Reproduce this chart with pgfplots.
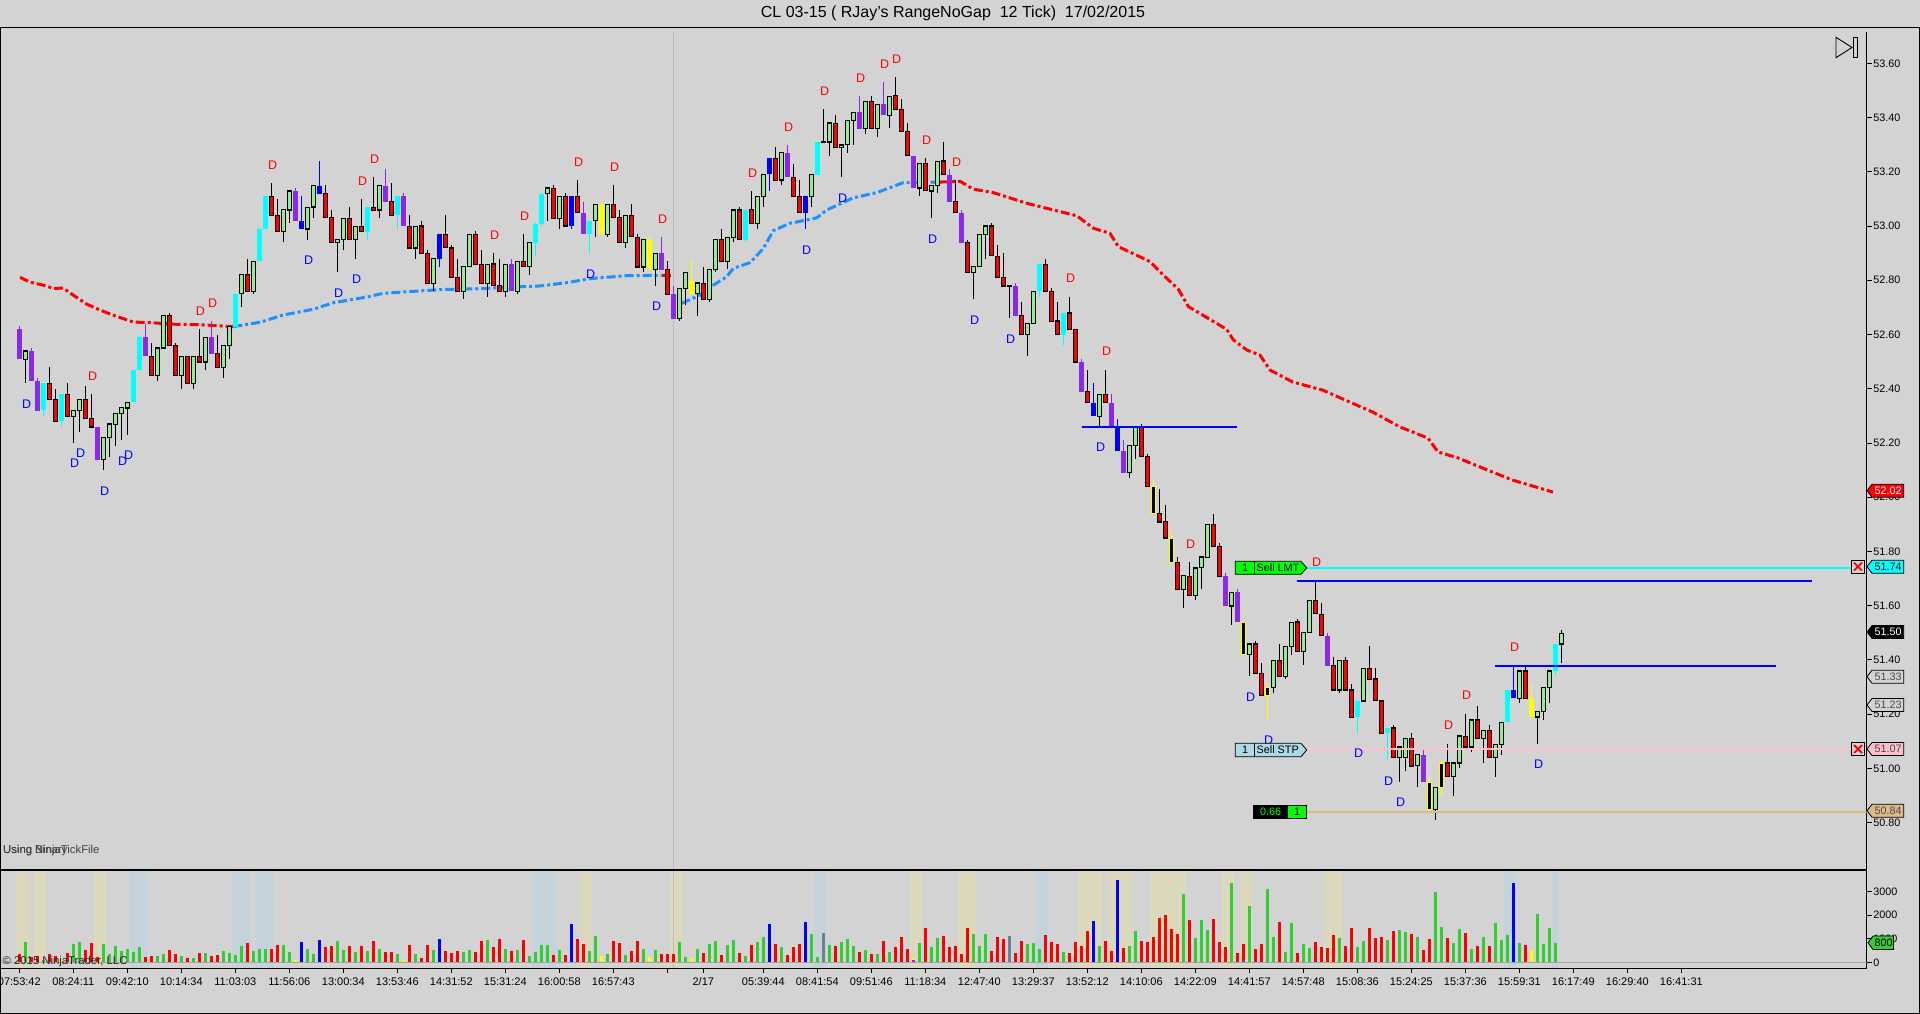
\documentclass[border=0pt]{standalone}
\usepackage{pgfplots}
\usepackage{pgfplotstable}
\usepackage{fontspec}
\setmainfont{Liberation Sans}
\pgfplotsset{compat=1.18}
\definecolor{bgc}{HTML}{D3D3D3}
\definecolor{cgreen}{HTML}{90EE90}
\definecolor{cpurple}{HTML}{8A2BE2}
\definecolor{vgreen}{HTML}{32CD32}
\definecolor{dblue}{HTML}{1E90FF}
\definecolor{byel}{HTML}{DCD8BC}
\definecolor{bblu}{HTML}{C4D3DB}
\definecolor{tan1}{HTML}{DEB887}
\definecolor{slate}{HTML}{708090}
\definecolor{lblue}{HTML}{ADD8E6}
\definecolor{ccyan}{HTML}{00FFFF}
\definecolor{cyel}{HTML}{FFFF00}
\definecolor{cpink}{HTML}{FFC0CB}
\definecolor{cred}{HTML}{FF0000}
\definecolor{cblue}{HTML}{0000FF}
\definecolor{clime}{HTML}{00FF00}
\newcommand{\fs}[1]{\fontsize{#1}{#1}\selectfont}

\pgfplotstableread{
x t b l h
1 52.54 52.51 52.42 52.54
9 52.32 52.30 52.20 52.32
10 52.36 52.32 52.24 52.36
14 52.22 52.14 52.10 52.22
15 52.27 52.22 52.15 52.27
16 52.31 52.27 52.19 52.31
17 52.33 52.31 52.21 52.33
18 52.35 52.33 52.23 52.35
23 52.55 52.45 52.43 52.55
24 52.67 52.55 52.55 52.67
27 52.52 52.45 52.40 52.52
29 52.52 52.42 52.40 52.52
31 52.59 52.50 52.47 52.59
34 52.56 52.48 52.44 52.56
35 52.63 52.56 52.51 52.63
37 52.82 52.75 52.70 52.82
39 52.87 52.76 52.75 52.87
44 53.06 52.98 52.94 53.06
45 53.13 53.06 53.01 53.13
48 53.07 52.99 52.95 53.07
49 53.15 53.07 53.03 53.15
53 52.95 52.94 52.83 52.95
54 53.03 52.95 52.91 53.03
56 53.00 52.95 52.88 53.00
60 53.15 53.06 53.03 53.15
66 53.00 52.92 52.88 53.00
69 52.88 52.79 52.76 52.88
74 52.85 52.76 52.73 52.85
75 52.97 52.85 52.85 52.97
78 52.86 52.79 52.74 52.86
81 52.86 52.76 52.74 52.86
83 52.87 52.76 52.75 52.87
85 52.94 52.85 52.82 52.94
88 53.14 53.12 53.02 53.14
90 53.11 53.03 52.99 53.11
96 53.08 53.02 52.96 53.08
98 53.08 52.97 52.96 53.08
101 53.04 52.94 52.92 53.04
104 52.95 52.85 52.83 52.95
106 52.90 52.84 52.78 52.90
110 52.77 52.66 52.65 52.77
111 52.83 52.77 52.71 52.83
113 52.79 52.75 52.67 52.79
115 52.84 52.73 52.72 52.84
116 52.95 52.84 52.83 52.95
118 52.96 52.87 52.84 52.96
119 53.06 52.96 52.94 53.06
123 53.11 53.01 52.99 53.11
124 53.19 53.11 53.07 53.19
127 53.27 53.17 53.15 53.27
132 53.19 53.11 53.07 53.19
134 53.31 53.31 53.31 53.43
135 53.38 53.31 53.26 53.38
137 53.30 53.29 53.18 53.30
138 53.39 53.30 53.27 53.39
139 53.42 53.39 53.30 53.42
141 53.46 53.36 53.34 53.46
143 53.45 53.36 53.33 53.45
145 53.48 53.41 53.36 53.48
150 53.23 53.14 53.11 53.23
152 53.15 53.13 53.03 53.15
153 53.24 53.15 53.12 53.24
159 52.85 52.83 52.73 52.85
160 52.97 52.85 52.85 52.97
161 53.00 52.97 52.88 53.00
165 52.78 52.78 52.66 52.78
168 52.64 52.60 52.52 52.64
169 52.76 52.64 52.64 52.76
180 52.38 52.30 52.26 52.38
185 52.19 52.09 52.07 52.19
186 52.26 52.19 52.14 52.26
194 51.71 51.66 51.59 51.71
196 51.74 51.64 51.62 51.74
197 51.78 51.74 51.66 51.78
198 51.90 51.78 51.78 51.90
202 51.65 51.60 51.53 51.65
205 51.46 51.42 51.34 51.46
209 51.40 51.30 51.28 51.40
211 51.45 51.34 51.33 51.45
212 51.54 51.45 51.42 51.54
214 51.50 51.43 51.38 51.50
215 51.62 51.50 51.50 51.62
220 51.40 51.29 51.28 51.40
224 51.37 51.25 51.25 51.37
230 51.08 51.04 50.95 51.08
231 51.11 51.04 50.99 51.11
233 51.05 51.01 50.93 51.05
236 50.93 50.85 50.81 50.93
239 51.02 50.97 50.90 51.02
240 51.12 51.02 51.00 51.12
242 51.18 51.08 51.06 51.18
244 51.14 51.11 51.02 51.14
246 51.09 51.04 50.97 51.09
247 51.17 51.09 51.05 51.17
250 51.36 51.26 51.24 51.36
253 51.21 51.19 51.09 51.21
254 51.30 51.21 51.18 51.30
255 51.36 51.30 51.24 51.36
257 51.50 51.46 51.39 51.51
}\tgreen

\pgfplotstableread{
x t b l h
5 52.42 52.36 52.36 52.48
6 52.36 52.28 52.28 52.40
8 52.38 52.30 52.30 52.42
11 52.36 52.29 52.29 52.41
12 52.29 52.26 52.26 52.38
22 52.52 52.45 52.45 52.57
25 52.67 52.56 52.56 52.68
26 52.56 52.45 52.45 52.57
28 52.52 52.42 52.42 52.52
30 52.52 52.50 52.50 52.62
33 52.53 52.48 52.48 52.60
38 52.82 52.76 52.76 52.88
42 53.11 53.04 53.04 53.16
43 53.04 52.98 52.98 53.10
51 53.12 53.03 53.03 53.15
52 53.03 52.94 52.94 53.06
55 53.03 52.95 52.95 53.07
57 53.00 52.98 52.98 53.10
59 53.07 53.06 53.06 53.18
62 53.09 53.04 53.04 53.16
65 53.00 52.92 52.92 53.04
67 53.00 52.90 52.90 53.02
68 52.90 52.79 52.79 52.91
71 52.97 52.92 52.92 53.04
72 52.92 52.81 52.81 52.93
73 52.81 52.76 52.76 52.88
76 52.97 52.86 52.86 52.98
77 52.86 52.79 52.79 52.91
79 52.86 52.78 52.78 52.90
80 52.78 52.76 52.76 52.88
84 52.87 52.85 52.85 52.97
89 53.14 53.03 53.03 53.15
91 53.11 53.00 53.00 53.12
93 53.11 53.05 53.05 53.17
99 53.08 53.03 53.03 53.15
100 53.03 52.94 52.94 53.06
102 53.04 52.96 52.96 53.08
103 52.96 52.85 52.85 52.97
108 52.84 52.75 52.75 52.87
114 52.79 52.73 52.73 52.85
117 52.95 52.87 52.87 52.99
120 53.06 52.95 52.95 53.07
122 53.06 53.01 53.01 53.13
126 53.25 53.17 53.17 53.29
129 53.18 53.11 53.11 53.23
130 53.11 53.05 53.05 53.17
136 53.38 53.29 53.29 53.41
142 53.46 53.36 53.36 53.48
146 53.48 53.43 53.43 53.55
147 53.43 53.35 53.35 53.47
148 53.35 53.26 53.26 53.38
151 53.23 53.13 53.13 53.25
154 53.24 53.19 53.19 53.31
156 53.09 53.05 53.05 53.17
158 52.94 52.83 52.83 52.95
162 53.00 52.89 52.89 53.01
163 52.89 52.81 52.81 52.93
164 52.81 52.78 52.78 52.90
167 52.67 52.60 52.60 52.72
171 52.86 52.76 52.76 52.88
172 52.76 52.65 52.65 52.77
173 52.65 52.60 52.60 52.72
175 52.68 52.62 52.62 52.74
176 52.62 52.50 52.50 52.62
178 52.39 52.35 52.35 52.47
181 52.38 52.35 52.35 52.47
187 52.26 52.15 52.15 52.27
188 52.15 52.04 52.04 52.16
190 51.94 51.91 51.91 52.03
191 51.91 51.85 51.85 51.97
193 51.76 51.66 51.66 51.78
195 51.71 51.64 51.64 51.76
199 51.90 51.82 51.82 51.94
200 51.82 51.71 51.71 51.83
206 51.46 51.35 51.35 51.47
207 51.35 51.27 51.27 51.39
210 51.40 51.34 51.34 51.46
213 51.54 51.43 51.43 51.55
216 51.62 51.57 51.57 51.69
217 51.57 51.49 51.49 51.61
219 51.38 51.29 51.29 51.41
221 51.40 51.29 51.29 51.41
222 51.29 51.19 51.19 51.31
225 51.37 51.33 51.33 51.45
226 51.33 51.25 51.25 51.37
227 51.25 51.13 51.13 51.25
229 51.15 51.04 51.04 51.16
232 51.11 51.01 51.01 51.13
238 51.02 50.97 50.97 51.09
241 51.12 51.08 51.08 51.20
243 51.18 51.11 51.11 51.23
245 51.14 51.04 51.04 51.16
251 51.36 51.26 51.26 51.38
}\tred

\pgfplotstableread{
x t b l h
0 52.62 52.51 52.51 52.63
2 52.54 52.43 52.43 52.55
3 52.43 52.32 52.32 52.44
13 52.26 52.14 52.14 52.26
21 52.59 52.52 52.52 52.64
32 52.59 52.53 52.53 52.65
46 53.13 53.02 53.02 53.14
61 53.15 53.09 53.09 53.21
64 53.11 53.00 53.00 53.12
82 52.86 52.76 52.76 52.88
94 53.05 52.97 52.97 53.09
107 52.90 52.84 52.84 52.96
109 52.75 52.66 52.66 52.78
128 53.27 53.18 53.18 53.30
140 53.42 53.36 53.36 53.48
144 53.45 53.41 53.41 53.53
149 53.26 53.14 53.14 53.26
155 53.19 53.09 53.09 53.21
157 53.05 52.94 52.94 53.06
166 52.78 52.67 52.67 52.79
177 52.50 52.39 52.39 52.51
182 52.35 52.26 52.26 52.38
184 52.17 52.09 52.09 52.21
201 51.71 51.60 51.60 51.72
203 51.65 51.54 51.54 51.66
218 51.49 51.38 51.38 51.50
234 51.05 50.95 50.95 51.07
}\tpurple

\pgfplotstableread{
x t b l h
4 52.42 52.32 52.30 52.42
7 52.38 52.28 52.26 52.38
19 52.47 52.35 52.35 52.47
20 52.59 52.47 52.47 52.59
36 52.75 52.63 52.63 52.75
40 52.99 52.87 52.87 52.99
41 53.11 52.99 52.99 53.11
58 53.07 52.98 52.95 53.07
63 53.11 53.04 52.99 53.11
86 53.01 52.94 52.89 53.01
87 53.12 53.01 53.00 53.12
95 53.02 52.97 52.90 53.02
121 53.06 52.95 52.94 53.06
133 53.31 53.19 53.19 53.31
170 52.86 52.76 52.74 52.86
174 52.68 52.60 52.56 52.68
223 51.25 51.19 51.13 51.25
228 51.15 51.13 51.03 51.15
248 51.29 51.17 51.17 51.29
256 51.46 51.36 51.34 51.46
}\tcyan

\pgfplotstableread{
x t b l h
47 53.02 52.99 52.99 53.11
50 53.15 53.12 53.12 53.24
70 52.97 52.88 52.85 52.97
92 53.11 53.00 52.99 53.11
125 53.25 53.19 53.13 53.25
131 53.11 53.05 52.99 53.11
179 52.35 52.30 52.30 52.42
183 52.26 52.17 52.17 52.29
249 51.29 51.26 51.26 51.38
}\tblue

\pgfplotstableread{
x t b l h
97 53.08 52.97 52.97 53.09
105 52.95 52.84 52.84 52.96
112 52.80 52.75 52.75 52.87
252 51.26 51.19 51.19 51.31
}\tyellow

\pgfplotstableread{
x t b l h
189 52.04 51.94 51.94 52.06
192 51.85 51.76 51.76 51.88
204 51.54 51.42 51.42 51.54
208 51.30 51.27 51.18 51.30
235 50.95 50.85 50.85 50.97
237 51.02 50.93 50.90 51.02
}\tblack

\pgfplotstableread{
x v
0 352
2 225
3 268
5 352
6 268
8 394
11 521
12 817
13 225
21 225
22 268
25 521
26 352
28 183
30 394
32 268
33 310
38 817
42 563
43 732
51 648
52 690
55 690
57 690
59 901
61 436
62 436
65 732
67 183
68 732
71 479
72 394
73 479
76 436
77 901
79 648
80 986
82 479
84 943
89 310
91 310
93 986
94 774
99 901
100 817
102 479
103 901
107 352
108 352
109 352
114 394
117 310
120 394
122 732
126 774
128 310
129 648
130 774
136 690
140 436
142 352
144 901
146 648
147 1070
148 563
151 1450
154 1112
155 648
156 690
157 352
158 1450
162 479
163 1070
164 986
166 394
167 901
171 1155
172 859
173 774
175 394
176 859
177 690
178 1324
181 901
182 479
184 605
187 901
188 859
189 1070
190 1873
191 2000
192 1408
193 1197
195 1788
199 1830
200 859
201 648
203 394
204 774
206 563
207 774
210 1704
213 394
216 859
217 648
218 605
219 1155
221 690
222 1450
225 1450
226 1028
227 1070
229 1324
232 1197
234 521
235 986
238 1028
241 1239
243 690
245 690
251 732
}\vred

\pgfplotstableread{
x v
1 859
4 99
9 774
10 859
14 774
15 352
16 690
17 479
18 563
19 436
20 648
23 268
24 352
27 268
29 183
31 394
34 479
35 394
36 310
37 690
39 479
40 563
41 563
44 732
45 436
48 563
49 352
53 901
54 521
56 436
58 479
60 563
63 352
66 352
69 521
74 436
75 521
78 943
81 563
83 521
85 268
86 436
87 732
88 732
90 521
95 479
96 1112
98 352
101 310
104 563
106 521
110 859
111 225
113 563
115 774
116 901
118 732
119 943
121 268
123 859
124 1070
127 648
132 1197
133 225
135 732
137 859
138 986
139 690
141 521
143 352
145 436
150 817
152 648
153 1028
159 1197
160 690
161 1197
168 774
169 817
170 563
174 436
180 690
185 690
186 1324
194 2886
196 1028
197 1788
198 1366
202 3351
205 2380
208 3098
209 1070
211 436
212 1661
214 774
215 605
220 1028
223 648
224 901
228 943
230 1366
231 1281
233 1070
236 2971
237 1492
239 817
240 1408
242 563
244 1070
246 1661
247 943
248 1155
250 817
253 2042
254 774
255 1450
256 817
}\vgreentab

\pgfplotstableread{
x v
47 859
50 943
70 986
92 1619
125 1619
131 1704
179 1746
183 3478
249 3351
}\vblue

\pgfplotstableread{
x v
7 127
46 127
64 99
97 268
105 225
112 197
149 169
252 521
}\vyellow

\pgfplotstableread{
x v
109 40
149 99
157 40
177 40
182 40
184 40
189 40
204 99
218 40
234 40
}\vpurple

\pgfplotstableread{
x v
134 1239
165 1112
}\vslate

\pgfplotstableread{
x p
12.23 52.447
30.17 52.687
32.23 52.716
42.23 53.225
57.23 53.166
59.23 53.247
79.23 52.967
84.23 53.037
93.23 53.235
99.23 53.218
107.23 53.026
122.23 53.196
128.23 53.364
134.23 53.498
140.23 53.546
144.23 53.597
146.23 53.616
151.23 53.317
156.23 53.236
175.23 52.808
181.23 52.539
195.23 51.827
216.23 51.761
238.23 51.160
241.23 51.271
249.23 51.448
}\dred

\pgfplotstableread{
x p
1.23 52.344
9.23 52.124
10.23 52.163
14.23 52.023
17.23 52.134
18.23 52.156
48.23 52.875
53.23 52.753
56.23 52.805
95.23 52.822
106.23 52.705
131.23 52.912
137.23 53.103
152.23 52.952
159.23 52.653
165.23 52.583
180.23 52.185
205.23 51.263
208.23 51.105
223.23 51.057
228.23 50.954
230.23 50.876
253.23 51.016
}\dblue

\newcommand{\wicks}[2]{\addplot[forget plot, draw=none, mark=none, mark size=0pt, mark options={draw=none,fill=none}, error bars/.cd, y dir=both, y explicit, error bar style={draw=#2, line width=1.2pt, solid}, error mark=none] table[x=x, y=t, y error plus expr={\thisrow{h}-\thisrow{t}}, y error minus expr={\thisrow{t}-\thisrow{l}}] {#1};}
\newcommand{\bodies}[4]{\addplot[forget plot, draw=none, mark=none, mark size=0pt, mark options={draw=none,fill=none}, error bars/.cd, y dir=both, y explicit, error bar style={draw=#2, line width=#3, solid}, error mark=none] table[x=x, y expr={(\thisrow{t}+\thisrow{b})/2}, y error plus expr={max((\thisrow{t}-\thisrow{b})/2+(#4),0)}, y error minus expr={max((\thisrow{t}-\thisrow{b})/2+(#4),0)}] {#1};}
\newcommand{\vols}[2]{\addplot[forget plot, ycomb, line width=3pt, color=#2] table[x=x, y=v] {#1};}
\newcommand{\band}[3]{\addplot[forget plot, fill=#3, draw=none] coordinates {(#1,-245) (#2,-245) (#2,3908) (#1,3908)};}
\newcommand{\hl}[5]{\addplot[forget plot, color=#1, line width=#2] coordinates {(#3,#5) (#4,#5)};}
\newcommand{\dees}[2]{\addplot[forget plot, only marks, mark=none, nodes near coords={D}, nodes near coords align={center}, every node near coord/.append style={text=#2, font=\fs{12.5}, inner sep=0pt}] table[x=x, y=p] {#1};}
\newcommand{\ptag}[4]{\draw[black, line width=0.8pt, fill=#2] (1867,#1) -- (1872,#1-6.5) -- (1903.7,#1-6.5) -- (1903.7,#1+6.5) -- (1872,#1+6.5) -- cycle; \node[text=#3, font=\fs{10.8}, inner sep=0pt] at (1888,#1) {#4};}
\newcommand{\xbox}[1]{\draw[black, line width=0.8pt, fill=bgc] (1851.5,#1-6.5) rectangle (1864.5,#1+6.5); \draw[cred, line width=1.8pt] (1854,#1-4) -- (1862,#1+4) (1854,#1+4) -- (1862,#1-4);}

\begin{document}
\begin{tikzpicture}[x=1pt,y=1pt]
\path[use as bounding box] (0,0) rectangle (1920,-1014);
\fill[bgc] (0,0) rectangle (1920,-1014);

% price panel
\begin{axis}[
  at={(0pt,-870pt)}, anchor=south west, scale only axis,
  width=1866.7pt, height=838pt,
  xmin=-3.217, xmax=307.9, ymin=50.6256, ymax=53.7154,
  axis x line*=bottom, axis y line*=right,
  axis line style={-, black, line width=1.2pt},
  xtick=\empty,
  ytick={50.8,51.0,51.2,51.4,51.6,51.8,52.0,52.2,52.4,52.6,52.8,53.0,53.2,53.4,53.6},
  yticklabel style={font=\fs{10.8}, inner sep=1pt, xshift=0.5pt, /pgf/number format/.cd, fixed, fixed zerofill, precision=2, assume math mode=true},
  tick align=outside, major tick length=5pt,
  tick style={black, line width=1pt},
]
\addplot[forget plot, color=black!25, line width=1pt] coordinates {(109,50.6256) (109,53.7154)};
\addplot[forget plot, color=cred, line width=3pt, dash pattern=on 9pt off 3pt on 3pt off 3pt] coordinates {(0.12,52.811)(1.78,52.793)(4.0,52.782)(5.67,52.770)(7.34,52.771)(8.73,52.749)(11.23,52.712)(13.45,52.69)(15.95,52.669)(19.0,52.646)(22.34,52.643)(25.67,52.638)(30.12,52.636)(35.67,52.629)};
\addplot[forget plot, color=dblue, line width=3pt, dash pattern=on 9pt off 3pt on 3pt off 3pt] coordinates {(35.67,52.629)(40.12,52.645)(44.0,52.672)(49.0,52.693)(52.34,52.717)(57.89,52.738)(60.67,52.752)(66.23,52.76)(70.67,52.766)(76.78,52.769)(81.22,52.774)(86.78,52.779)(91.22,52.791)(95.12,52.806)(101.22,52.817)(107.06,52.818)};
\addplot[forget plot, color=cred, line width=3pt] coordinates {(107.06,52.818)(108.56,52.818)};
\addplot[forget plot, color=dblue, line width=3pt, dash pattern=on 9pt off 3pt on 3pt off 3pt] coordinates {(110.39,52.715)(113.45,52.745)(115.67,52.782)(117.89,52.813)(119.0,52.844)(121.78,52.865)(124.0,52.917)(125.67,52.983)(128.45,53.01)(132.89,53.03)(134.56,53.059)(139.0,53.104)(142.89,53.123)(147.34,53.16)(151.22,53.162)(153.45,53.162)};
\addplot[forget plot, color=cred, line width=3pt, dash pattern=on 9pt off 3pt on 3pt off 3pt] coordinates {(153.45,53.162)(156.78,53.165)(159.0,53.136)(162.34,53.123)(167.89,53.084)(173.45,53.053)(176.23,53.038)(179.0,52.992)(181.78,52.973)(183.17,52.924)(188.45,52.869)(190.67,52.819)(193.17,52.767)(194.84,52.703)(201.23,52.619)(202.34,52.58)(204.57,52.543)(206.78,52.524)(208.45,52.469)(212.23,52.425)(217.23,52.395)(221.73,52.351)(225.57,52.314)(230.12,52.259)(234.78,52.218)(236.45,52.167)(239.78,52.145)(242.62,52.119)(248.78,52.064)(255.62,52.019)};

\wicks{\tgreen}{black}
\wicks{\tred}{black}
\wicks{\tpurple}{cpurple}
\wicks{\tcyan}{ccyan}
\wicks{\tblue}{cblue}
\wicks{\tyellow}{cyel}
\wicks{\tblack}{cyel}
\bodies{\tgreen}{black}{5.2pt}{0.0022}
\bodies{\tgreen}{cgreen}{3pt}{-0.0022}
\bodies{\tred}{black}{5.2pt}{0.0022}
\bodies{\tred}{cred}{3pt}{-0.0022}
\bodies{\tpurple}{cpurple}{4.8pt}{0}
\bodies{\tcyan}{ccyan}{4.8pt}{0}
\bodies{\tblue}{cblue}{5.5pt}{0}
\bodies{\tyellow}{cyel}{4.8pt}{0}
\bodies{\tblack}{cyel}{5.2pt}{0.0022}
\bodies{\tblack}{black}{3pt}{-0.0022}

\dees{\dred}{cred}
\dees{\dblue}{cblue}

\hl{cblue}{2.2pt}{177.07}{203}{52.258}
\hl{cblue}{2.2pt}{213}{298.8}{51.69}
\hl{cblue}{2.2pt}{246}{292.7}{51.377}
\hl{ccyan}{2pt}{214.57}{305.4}{51.74}
\hl{cpink}{2pt}{214.57}{305.4}{51.07}
\hl{tan1}{2pt}{214.57}{307.9}{50.84}
\end{axis}

% volume panel
\begin{axis}[
  at={(0pt,-968.3pt)}, anchor=south west, scale only axis,
  width=1866.7pt, height=98.3pt,
  xmin=-3.217, xmax=307.9, ymin=-245, ymax=3908,
  axis x line*=bottom, axis y line*=right,
  axis line style={-, black, line width=1.2pt},
  xtick={0,9,18,27,36,45,54,63,72,81,90,99,108,114,124,133,142,151,160,169,178,187,196,205,214,223,232,241,250,259,268,277},
  xticklabels={07:53:42,08:24:11,09:42:10,10:14:34,11:03:03,11:56:06,13:00:34,13:53:46,14:31:52,15:31:24,16:00:58,16:57:43,,2/17,05:39:44,08:41:54,09:51:46,11:18:34,12:47:40,13:29:37,13:52:12,14:10:06,14:22:09,14:41:57,14:57:48,15:08:36,15:24:25,15:37:36,15:59:31,16:17:49,16:29:40,16:41:31},
  xticklabel style={font=\fs{11}, inner sep=1pt, yshift=-3pt},
  ytick={0,1000,2000,3000},
  yticklabel style={font=\fs{10.8}, inner sep=1pt, xshift=0.5pt, /pgf/number format/.cd, fixed, 1000 sep={}, assume math mode=true},
  tick align=outside, major tick length=5pt,
  tick style={black, line width=1pt},
]
\band{-0.55}{1.55}{byel}
\band{2.45}{4.45}{byel}
\band{12.45}{14.45}{byel}
\band{18.45}{21.45}{bblu}
\band{35.45}{38.45}{bblu}
\band{39.45}{42.45}{bblu}
\band{85.45}{89.45}{bblu}
\band{93.45}{95.45}{byel}
\band{108.45}{110.45}{byel}
\band{132.45}{134.45}{bblu}
\band{148.45}{150.45}{byel}
\band{156.45}{159.45}{byel}
\band{169.45}{171.45}{bblu}
\band{176.45}{180.45}{byel}
\band{181.45}{185.45}{byel}
\band{188.45}{194.45}{byel}
\band{200.45}{202.45}{byel}
\band{203.45}{205.45}{byel}
\band{217.45}{220.45}{byel}
\band{247.45}{249.45}{bblu}
\band{255.45}{256.45}{bblu}
\addplot[forget plot, color=black!25, line width=1pt] coordinates {(109,-245) (109,3908)};
\vols{\vred}{cred}
\vols{\vgreentab}{vgreen}
\vols{\vblue}{cblue}
\vols{\vyellow}{cyel}
\vols{\vpurple}{cpurple}
\vols{\vslate}{slate}
\addplot[forget plot, color=black!35, line width=1.6pt] coordinates {(-3.217,0) (307.9,0)};
\end{axis}

% annotations in pixel coordinates
\begin{scope}[x=1pt,y=-1pt]
\draw[black, line width=1.2pt] (0,27.3) -- (1920,27.3);
\draw[black, line width=1.2pt] (0.6,27.3) -- (0.6,1013.4) -- (1919.4,1013.4) -- (1919.4,27.3);
\draw[black, line width=1.2pt] (0,870) -- (1866.7,870);
\node[font=\fs{16}] at (953,13) {CL 03-15 ( RJay's RangeNoGap\ \ 12 Tick)\ \ 17/02/2015};
\node[anchor=west, font=\fs{11.3}, inner sep=0pt, text=black!75] at (3,850.5) {Using NinjaTickFile};
\node[anchor=west, font=\fs{11.3}, inner sep=0pt, text=black!75] at (3,850.5) {Using Binary};
\node[anchor=west, font=\fs{11.3}, inner sep=0pt, text=black!85] at (2.5,962) {© 2015 NinjaTrader, LLC};
% play icon
\draw[black, line width=0.9pt] (1836,37.3) -- (1852,47.5) -- (1836,57.7) -- cycle;
\draw[black, line width=0.9pt] (1853.5,37.3) rectangle (1857,57.7);
% order tags
\draw[black, line width=0.8pt, fill=clime] (1235.3,561.3) -- (1301,561.3) -- (1306.7,567.8) -- (1301,574.3) -- (1235.3,574.3) -- cycle;
\draw[black, line width=0.8pt] (1254.3,561.3) -- (1254.3,574.3);
\node[font=\fs{10.8}, inner sep=0pt] at (1245,567.8) {1};
\node[font=\fs{10.8}, inner sep=0pt, anchor=west] at (1256.5,567.8) {Sell LMT};
\draw[black, line width=0.8pt, fill=lblue] (1235.3,743.3) -- (1301,743.3) -- (1306.7,749.9) -- (1301,756.7) -- (1235.3,756.7) -- cycle;
\draw[black, line width=0.8pt] (1254.3,743.3) -- (1254.3,756.7);
\node[font=\fs{10.8}, inner sep=0pt] at (1245,750) {1};
\node[font=\fs{10.8}, inner sep=0pt, anchor=west] at (1256.5,750) {Sell STP};
\fill[black] (1253,805.3) rectangle (1306.7,818.7);
\fill[clime] (1288,806) rectangle (1306,818);
\node[font=\fs{10.8}, inner sep=0pt, text=clime] at (1270.5,812) {0.66};
\node[font=\fs{10.8}, inner sep=0pt] at (1297,812) {1};
% price tags
\ptag{490.7}{cred}{white}{52.02}
\ptag{566.7}{ccyan}{black}{51.74}
\ptag{632}{black}{white}{51.50}
\ptag{676.7}{bgc}{black!70}{51.33}
\ptag{705}{bgc}{black!70}{51.23}
\ptag{749}{cpink}{black!70}{51.07}
\ptag{810.7}{tan1}{black!70}{50.84}
\xbox{566.7}
\xbox{749}
\draw[black, line width=0.8pt, fill=vgreen] (1868,942.7) -- (1873,936) -- (1893.5,936) -- (1893.5,949.5) -- (1873,949.5) -- cycle;
\node[font=\fs{10.8}, inner sep=0pt] at (1883.5,942.7) {800};
\end{scope}
\end{tikzpicture}
\end{document}
